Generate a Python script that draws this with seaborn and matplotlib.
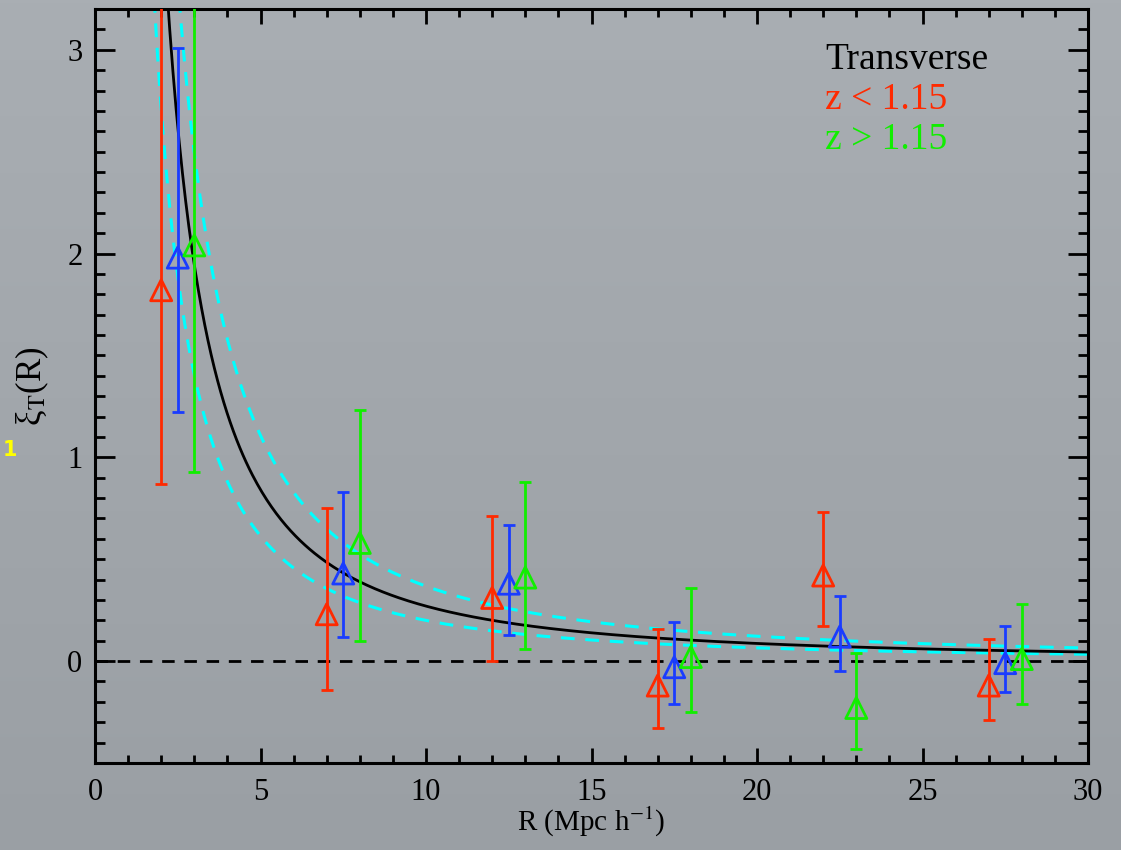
import numpy as np
import pandas as pd
import matplotlib
matplotlib.use("Agg")
import matplotlib.pyplot as plt
import seaborn as sns
from matplotlib.ticker import MultipleLocator

# ---------------- data ----------------
# z < 1.15 (red)
r_low = [2, 7, 12, 17, 22, 27]
xi_low = [1.82, 0.23, 0.31, -0.12, 0.42, -0.12]
xi_low_min = [0.87, -0.14, 0.00, -0.33, 0.17, -0.29]
xi_low_max = [3.60, 0.75, 0.71, 0.16, 0.73, 0.11]

# full sample (blue)
r_all = [2.5, 7.5, 12.5, 17.5, 22.5, 27.5]
xi_all = [1.98, 0.43, 0.38, -0.03, 0.12, -0.01]
xi_all_min = [1.22, 0.12, 0.13, -0.21, -0.05, -0.15]
xi_all_max = [3.01, 0.83, 0.67, 0.19, 0.32, 0.17]

# z > 1.15 (green)
r_high = [3, 8, 13, 18, 23, 28]
xi_high = [2.04, 0.58, 0.41, 0.02, -0.23, 0.01]
xi_high_min = [0.93, 0.10, 0.06, -0.25, -0.43, -0.21]
xi_high_max = [3.60, 1.23, 0.88, 0.36, 0.04, 0.28]

# power-law fit xi = (R/r0)^-gamma and its bounds
fit_r0, fit_gamma = 4.5, 1.64
upper_r0, upper_gamma = 5.33, 1.59
lower_r0, lower_gamma = 3.70, 1.62

legend_lines = ["Transverse", "z < 1.15", "z > 1.15"]
x_ticks = [0, 5, 10, 15, 20, 25, 30]
y_ticks = [0, 1, 2, 3]

# ---------------- style ----------------
RED = "#ff2a00"
BLUE = "#1a3cff"
GREEN = "#11ee00"
CYAN = "#00ffff"

sns.set_theme(style="ticks")
plt.rcParams["font.family"] = ["Liberation Serif", "DejaVu Serif"]
plt.rcParams["mathtext.fontset"] = "stix"

W, H = 1121, 850
fig = plt.figure(figsize=(W / 100, H / 100), dpi=100)

# background gradient (slide-like grey)
bg = fig.add_axes([0, 0, 1, 1], zorder=-10)
grad = np.linspace(0, 1, 256).reshape(-1, 1)
bg.imshow(grad, aspect="auto", cmap=matplotlib.colors.LinearSegmentedColormap.from_list(
    "g", ["#a9aeb3", "#9a9fa4"]), extent=[0, 1, 0, 1], origin="upper")
bg.set_axis_off()

ax = fig.add_axes([95 / W, 1 - 763 / H, (1088 - 95) / W, (763 - 9) / H])
ax.set_facecolor("none")

# fit curves
rr = np.linspace(1.2, 30, 600)
curves = pd.DataFrame({
    "R": np.concatenate([rr, rr, rr]),
    "xi": np.concatenate([(rr / fit_r0) ** -fit_gamma,
                          (rr / upper_r0) ** -upper_gamma,
                          (rr / lower_r0) ** -lower_gamma]),
    "kind": ["fit"] * len(rr) + ["upper"] * len(rr) + ["lower"] * len(rr),
})
sns.lineplot(data=curves[curves.kind == "upper"], x="R", y="xi", color=CYAN,
             lw=2.2, ax=ax, zorder=2, estimator=None, sort=False)
ax.lines[-1].set_dashes([4.5, 3.5])
sns.lineplot(data=curves[curves.kind == "lower"], x="R", y="xi", color=CYAN,
             lw=2.2, ax=ax, zorder=2, estimator=None, sort=False)
ax.lines[-1].set_dashes([4.5, 3.5])
sns.lineplot(data=curves[curves.kind == "fit"], x="R", y="xi", color="black",
             lw=2.0, ax=ax, zorder=3, estimator=None, sort=False)

# zero line
ax.axhline(0, color="black", lw=2.0, dashes=(4.5, 3.5), zorder=2)

# data with asymmetric error bars
for r, xi, lo, hi, c in [(r_low, xi_low, xi_low_min, xi_low_max, RED),
                         (r_all, xi_all, xi_all_min, xi_all_max, BLUE),
                         (r_high, xi_high, xi_high_min, xi_high_max, GREEN)]:
    xi_a = np.array(xi)
    yerr = [xi_a - np.array(lo), np.array(hi) - xi_a]
    ax.errorbar(r, xi, yerr=yerr, fmt="none", ecolor=c, elinewidth=2.0,
                capsize=4, capthick=2.0, zorder=4)
    sns.scatterplot(x=r, y=xi, marker="^", s=230, color=c, ax=ax, zorder=5,
                    linewidth=2.0)
    coll = ax.collections[-1]
    coll.set_facecolor("none")
    coll.set_edgecolor(c)

ax.set_xlim(0, 30)
ax.set_ylim(-0.5, 3.2)
ax.set_xticks(x_ticks)
ax.set_yticks(y_ticks)
ax.xaxis.set_minor_locator(MultipleLocator(1))
ax.yaxis.set_minor_locator(MultipleLocator(0.1))
ax.tick_params(axis="both", which="both", direction="in", top=True, right=True,
               color="black", width=2.0, labelsize=22, labelcolor="black")
ax.tick_params(axis="x", which="major", length=11, pad=11)
ax.tick_params(axis="x", which="minor", length=5.5)
ax.tick_params(axis="y", which="major", length=14.5, pad=9)
ax.tick_params(axis="y", which="minor", length=7.2)
for s in ax.spines.values():
    s.set_linewidth(2.2)
    s.set_color("black")
    s.set_visible(True)

ax.set_xlabel(r"R (Mpc h$^{-1}$)", fontsize=21, color="black", labelpad=-2)
ax.set_ylabel("ξ$_{\\rm T}$(R)", fontsize=25, color="black", labelpad=12)
ax.grid(False)

# legend-like annotation
for i, (txt, c) in enumerate(zip(legend_lines, ["black", RED, GREEN])):
    ax.text(825 / W, 1 - (60 + 40 * i) / H, txt, color=c, fontsize=27,
            transform=fig.transFigure, ha="left", va="center")

# slide artifact (yellow "1")
fig.text(3 / W, 1 - 450 / H, "1", color="#ffff00", fontsize=15,
         fontweight="bold", family="DejaVu Sans", ha="left", va="center")

fig.savefig("out.png", dpi=100)
